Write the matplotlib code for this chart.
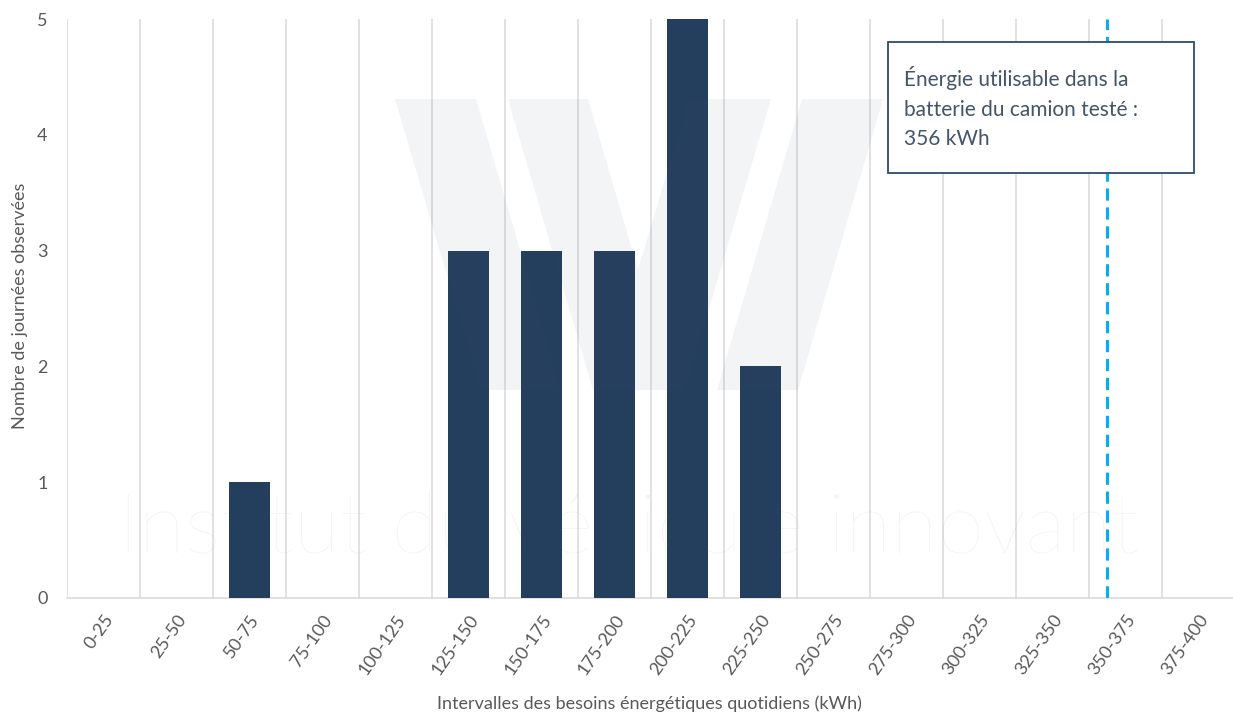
import matplotlib
matplotlib.use("Agg")
import matplotlib.pyplot as plt
from matplotlib.patches import Polygon, Rectangle
import numpy as np

# Histogram of daily energy needs (kWh), 25 kWh bins
intervals = ["0-25", "25-50", "50-75", "75-100", "100-125", "125-150", "150-175",
             "175-200", "200-225", "225-250", "250-275", "275-300", "300-325",
             "325-350", "350-375", "375-400"]
days = [0, 0, 1, 0, 0, 3, 3, 3, 5, 2, 0, 0, 0, 0, 0, 0]
bin_width = 25
battery_kwh = 356

W, H = 1233, 712
plt.rcParams['font.family'] = ['Lato', 'DejaVu Sans']

fig = plt.figure(figsize=(W / 100, H / 100), dpi=100)
ax = fig.add_axes([67 / W, 1 - 598 / H, (1235 - 67) / W, (598 - 19) / H])

x = np.arange(len(intervals))
ax.bar(x, days, width=0.56, color='#243E5E', zorder=3)

ax.set_xlim(-0.5, len(intervals) - 0.5)
ax.set_ylim(0, 5)
ax.set_yticks(range(6))
ax.set_xticks(x)
ax.set_xticklabels(intervals, rotation=55, ha='right', rotation_mode='anchor')
ax.set_xticks(x - 0.5, minor=True)
ax.grid(which='minor', axis='x', color='#D9D9D9', lw=1.1, zorder=1)
ax.tick_params(axis='both', which='both', length=0, colors='#595959', labelsize=13)
ax.tick_params(axis='y', pad=14)
ax.tick_params(axis='x', pad=10)
for side in ['top', 'right', 'left']:
    ax.spines[side].set_visible(False)
ax.spines['bottom'].set_color('#D9D9D9')
ax.spines['bottom'].set_linewidth(1.1)

# usable battery energy, converted to category units
x_batt = battery_kwh / bin_width - 0.5
ax.axvline(x_batt, color='#00B0F0', lw=2.2, ls=(0, (4, 2.2)), zorder=4)

fig.text(20 / W, 1 - 306 / H, "Nombre de journées observées", rotation=90,
         ha='center', va='center', fontsize=13, color='#595959')
fig.text(649 / W, 1 - 709 / H, "Intervalles des besoins énergétiques quotidiens (kWh)",
         ha='center', va='baseline', fontsize=13, color='#595959')

# watermark: stylised W (outer strokes + merged middle V) and institute name
wm = dict(facecolor='#4D5A76', alpha=0.065, edgecolor='none', zorder=10,
          transform=fig.transFigure)
logo = [
    [(395, 99), (476, 99), (561, 390), (481, 390)],
    [(508, 99), (588, 99), (638, 270), (689, 99), (771, 99), (685, 390), (593, 390)],
    [(802, 99), (883, 99), (798, 390), (717, 390)],
]
for s in logo:
    fig.patches.append(Polygon([(px / W, 1 - py / H) for px, py in s], closed=True, **wm))
fig.text(118 / W, 1 - 553 / H, "Institut du véhicule innovant", fontsize=61,
         fontweight='light', color='#4D5A76', alpha=0.065, ha='left', va='baseline',
         zorder=10)

# annotation box
fig.patches.append(Rectangle((888 / W, 1 - 173 / H), (1194 - 888) / W, (173 - 42) / H,
                             transform=fig.transFigure, facecolor='white',
                             edgecolor='#2F4B6E', lw=1.3, zorder=20))
note = ["Énergie utilisable dans la", "batterie du camion testé :", f"{battery_kwh} kWh"]
for i, line in enumerate(note):
    fig.text(904 / W, 1 - (86 + 29.5 * i) / H, line, ha='left', va='baseline',
             fontsize=15, color='#44546A', zorder=21)

fig.savefig("out.png", dpi=100)
